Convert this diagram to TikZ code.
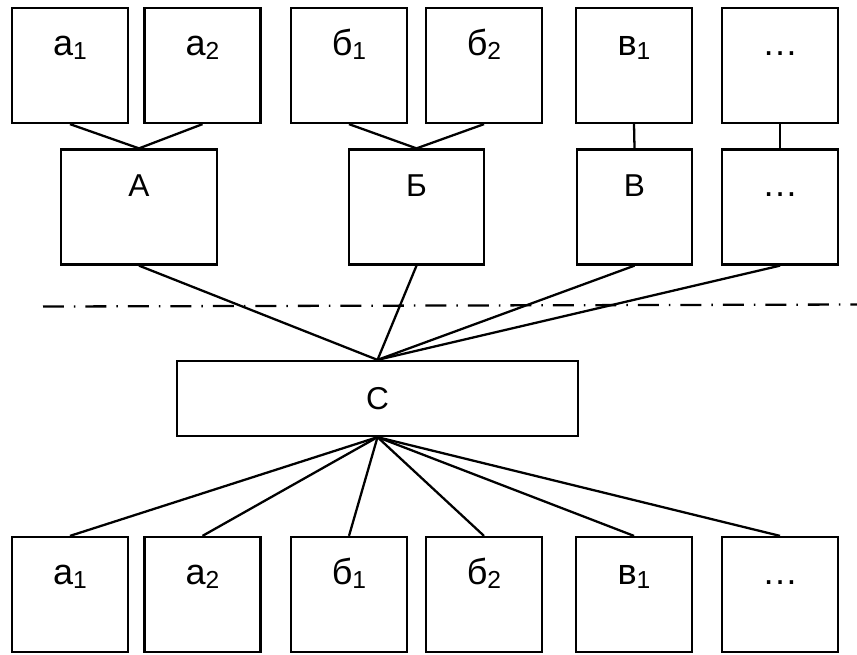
\documentclass[tikz,border=0pt]{standalone}
\usepackage{fontspec}
\setmainfont{Liberation Sans}
\newcommand{\ix}[1]{\raisebox{-2.5pt}{\fontsize{14}{16}\selectfont #1}}
\begin{document}
\begin{tikzpicture}[
    x=0.02cm, y=-0.02cm,
    line width=1.3pt,
    box/.style={draw, rectangle, inner sep=0pt, minimum width=2.32cm, text height=0.94cm, text depth=1.36cm},
    lowtext/.style={font=\fontsize{20.5}{23}\selectfont},
    captext/.style={font=\fontsize{18}{21}\selectfont},
    wide/.style={draw, rectangle, inner sep=0pt, minimum width=8.02cm, minimum height=1.5cm, captext},
    cut line/.style={dash pattern=on 0.42cm off 0.2cm on 0.03cm off 0.2cm}
]
\useasboundingbox (0,0) rectangle (857,654);

% top row
\node[box, lowtext] (a1top) at (70,65.5)  {а\ix{1}};
\node[box, lowtext] (a2top) at (202.5,65.5) {а\ix{2}};
\node[box, lowtext] (b1top) at (349,65.5) {б\ix{1}};
\node[box, lowtext] (b2top) at (484,65.5) {б\ix{2}};
\node[box, lowtext] (v1top) at (634,65.5) {в\ix{1}};
\node[box, lowtext] (etop)  at (780,65.5) {…};

% groups
\node[box, captext, minimum width=3.12cm] (A) at (139,207)   {А};
\node[box, captext, minimum width=2.7cm]  (B) at (416.5,207) {Б};
\node[box, captext, minimum width=2.3cm]  (V) at (634.5,207) {В};
\node[box, lowtext] (E) at (780,207) {…};

\draw (a1top.south) -- (A.north);
\draw (a2top.south) -- (A.north);
\draw (b1top.south) -- (B.north);
\draw (b2top.south) -- (B.north);
\draw (v1top.south) -- (V.north);
\draw (etop.south) -- (E.north);

% dash-dot border
\coordinate (cutL) at (43,306.5);
\coordinate (cutR) at (857,304.5);
\draw[cut line] (cutL) -- (cutR);

% C
\node[wide] (C) at (377.5,398.5) {С};
\foreach \g in {A,B,V,E}
    \draw (\g.south) -- (C.north);

% bottom row
\node[box, lowtext] (a1bot) at (70,594.5)  {а\ix{1}};
\node[box, lowtext] (a2bot) at (202.5,594.5) {а\ix{2}};
\node[box, lowtext] (b1bot) at (349,594.5) {б\ix{1}};
\node[box, lowtext] (b2bot) at (484,594.5) {б\ix{2}};
\node[box, lowtext] (v1bot) at (634,594.5) {в\ix{1}};
\node[box, lowtext] (ebot)  at (780,594.5) {…};

\foreach \b in {a1bot,a2bot,b1bot,b2bot,v1bot,ebot}
    \draw (C.south) -- (\b.north);
\end{tikzpicture}
\end{document}
